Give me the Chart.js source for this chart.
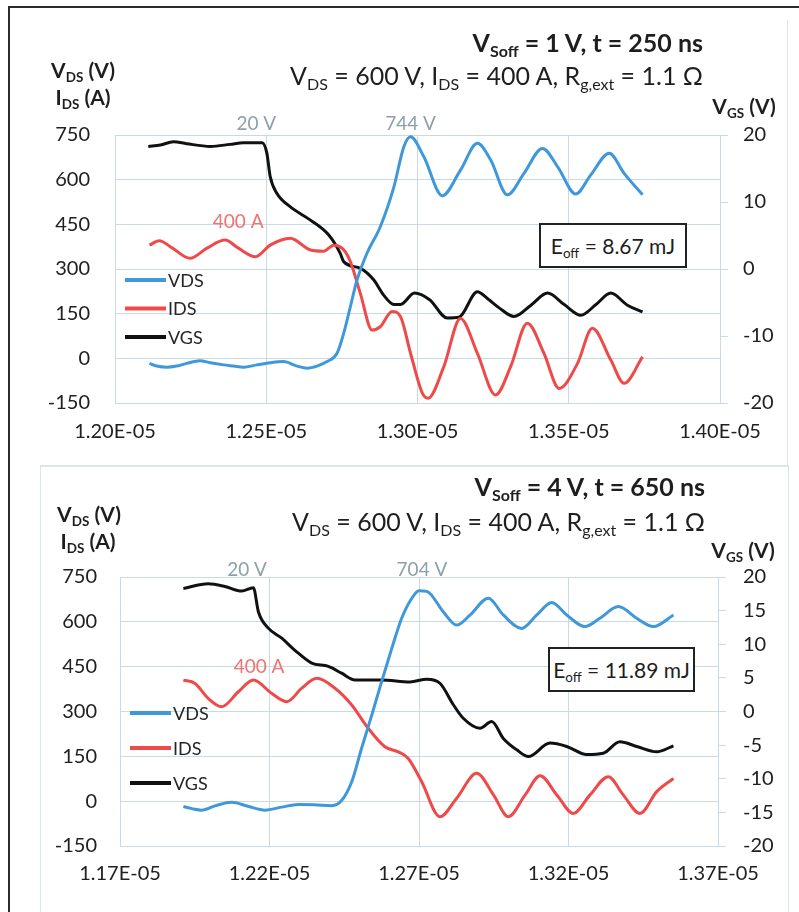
<!DOCTYPE html>
<html>
<head>
<meta charset="utf-8">
<script src="https://cdn.jsdelivr.net/npm/chart.js@4.4.1/dist/chart.umd.min.js"></script>
<style>
  body { margin: 0; background: #fff; font-family: Lato, "DejaVu Sans", sans-serif; color: #1e1e1e; }
  #page { position: relative; width: 799px; height: 912px; overflow: hidden; }
  .frame { position: absolute; left: 8px; top: 6px; width: 820px; height: 940px; border-left: 2px solid #2b2b2b; border-top: 2px solid #2b2b2b; }
  .panel { position: absolute; border: 0 solid #dbe5eb; }
  canvas { position: absolute; left: 0; }
  .txt { position: absolute; white-space: nowrap; line-height: 28px; font-size: 25px; }
  .ax { position: absolute; white-space: nowrap; line-height: 24px; font-size: 21px; font-weight: bold; text-align: center; width: 100px; }
  .s { font-size: 0.64em; vertical-align: -0.32em; line-height: 0; }
  .eoff { position: absolute; box-sizing: border-box; border: 2px solid #222; background: #fff;
          text-align: center; font-size: 21px; line-height: 41px; white-space: nowrap; }
</style>
</head>
<body>
<div id="page">
  <div class="frame"></div>
  <div class="panel" style="left:40px;top:20px;width:747px;height:446px;border-right-width:1px;border-bottom-width:1px;"></div>
  <div class="panel" style="left:40px;top:465px;width:747px;height:460px;border-left-width:1px;border-top-width:1px;border-right-width:1px;"></div>

  <canvas id="topChart" width="799" height="466" style="top:0"></canvas>
  <canvas id="botChart" width="799" height="446" style="top:466px"></canvas>

  <!-- top chart texts -->
  <div class="txt" style="right:96px;top:28px;font-weight:bold;">V<span class="s">Soff</span> = 1 V, t = 250 ns</div>
  <div class="txt" style="right:96px;top:61px;">V<span class="s">DS</span> = 600 V, I<span class="s">DS</span> = 400 A, R<span class="s">g,ext</span> = 1.1 Ω</div>
  <div class="ax" style="left:33px;top:58px;">V<span class="s">DS</span> (V)</div>
  <div class="ax" style="left:33px;top:85px;">I<span class="s">DS</span> (A)</div>
  <div class="ax" style="left:694px;top:94px;">V<span class="s">GS</span> (V)</div>
  <div class="eoff" style="left:539px;top:223px;width:148px;height:45px;"><span>E<span class="s">off</span> = 8.67 mJ</span></div>

  <!-- bottom chart texts -->
  <div class="txt" style="right:94px;top:472px;font-weight:bold;">V<span class="s">Soff</span> = 4 V, t = 650 ns</div>
  <div class="txt" style="right:94px;top:507px;">V<span class="s">DS</span> = 600 V, I<span class="s">DS</span> = 400 A, R<span class="s">g,ext</span> = 1.1 Ω</div>
  <div class="ax" style="left:39px;top:502px;">V<span class="s">DS</span> (V)</div>
  <div class="ax" style="left:38px;top:529px;">I<span class="s">DS</span> (A)</div>
  <div class="ax" style="left:693px;top:538px;">V<span class="s">GS</span> (V)</div>
  <div class="eoff" style="left:548px;top:647px;width:147px;height:45px;"><span>E<span class="s">off</span> = 11.89 mJ</span></div>
</div>

<script>
// time in microseconds (axis shows seconds, e.g. 12.5 us -> 1.25E-05)

// ---- top chart: VSoff = 1 V, t = 250 ns ----
const topVdsT = [12.114,12.138,12.171,12.204,12.237,12.281,12.315,12.359,12.392,12.425,12.469,12.513,12.557,12.602,12.635,12.668,12.701,12.734,12.756,12.778,12.800,12.833,12.877,12.922,12.955,12.977,13.021,13.082,13.142,13.198,13.242,13.297,13.352,13.413,13.463,13.523,13.573,13.634,13.683,13.744];
const topVds  = [-17,-26,-30,-26,-17,-8,-15,-22,-26,-30,-22,-15,-11,-26,-33,-26,-11,17,84,173,263,353,442,576,711,744,677,546,632,722,666,549,621,705,644,552,616,689,621,549];

const topIdsT = [12.114,12.146,12.190,12.248,12.304,12.364,12.408,12.464,12.513,12.579,12.646,12.690,12.723,12.756,12.778,12.811,12.850,12.877,12.916,12.944,12.977,13.016,13.035,13.087,13.142,13.198,13.258,13.308,13.363,13.418,13.468,13.529,13.578,13.639,13.683,13.744];
const topIds  = [380,395,370,336,370,397,370,341,380,403,364,360,380,365,325,218,95,106,157,140,17,-117,-134,-28,134,17,-123,-28,118,17,-101,-17,101,-6,-84,5];

const topVgsT = [12.110,12.150,12.193,12.237,12.315,12.380,12.425,12.486,12.502,12.513,12.535,12.579,12.646,12.706,12.745,12.756,12.811,12.855,12.888,12.922,12.944,12.990,13.040,13.098,13.137,13.198,13.231,13.270,13.319,13.375,13.430,13.485,13.540,13.590,13.639,13.694,13.744];
const topVgs  = [18.3,18.5,19.0,18.7,18.3,18.6,18.85,18.85,17.3,13.8,11.3,9.3,7.3,5.1,2.3,1.1,0.1,-1.6,-3.9,-5.3,-5.3,-3.6,-4.6,-7.3,-7.2,-3.4,-4.4,-5.8,-7.1,-5.4,-3.6,-5.3,-6.9,-5.3,-3.6,-5.4,-6.4];

const topXTicks  = [12.0,12.5,13.0,13.5,14.0];
const topYTicks  = [-150,0,150,300,450,600,750];
const topY2Ticks = [-20,-10,0,10,20];

const topNoteText = ['20 V','744 V','400 A'];
const topNoteT    = [12.467,12.977,12.407];
const topNoteV    = [787,787,458];

// ---- bottom chart: VSoff = 4 V, t = 650 ns ----
const botVdsT = [11.912,11.940,11.973,12.020,12.074,12.130,12.185,12.240,12.296,12.350,12.408,12.441,12.475,12.508,12.542,12.575,12.609,12.642,12.676,12.700,12.726,12.781,12.826,12.871,12.932,12.982,13.043,13.094,13.144,13.194,13.255,13.305,13.367,13.428,13.484,13.551];
const botVds  = [-18,-25,-30,-15,-4,-18,-30,-20,-11,-12,-15,2,65,177,288,400,511,612,679,704,702,634,589,623,679,623,578,623,665,623,584,612,651,612,584,623];

const botIdsT = [11.912,11.951,11.995,12.040,12.096,12.146,12.207,12.258,12.308,12.358,12.419,12.475,12.530,12.586,12.631,12.664,12.709,12.770,12.826,12.893,12.949,12.999,13.055,13.105,13.161,13.216,13.272,13.333,13.383,13.439,13.495,13.551];
const botIds  = [405,394,344,316,366,405,361,333,378,411,378,322,244,182,165,143,65,-52,10,93,21,-52,21,85,21,-41,21,82,21,-41,32,76];

const botVgsT = [11.912,11.995,12.051,12.107,12.146,12.163,12.196,12.241,12.285,12.341,12.397,12.441,12.486,12.575,12.670,12.726,12.770,12.815,12.848,12.904,12.943,12.982,13.027,13.066,13.138,13.194,13.261,13.316,13.372,13.428,13.495,13.551];
const botVgs  = [18.3,19.0,18.6,17.9,18.4,14.8,12.4,10.9,9.1,7.2,6.7,5.7,4.7,4.7,4.4,4.8,4.2,1.0,-1.0,-2.5,-1.5,-4.0,-5.7,-6.7,-4.7,-5.2,-6.4,-6.2,-4.5,-5.2,-6.0,-5.1];

const botXTicks  = [11.7,12.2,12.7,13.2,13.7];
const botYTicks  = [-150,0,150,300,450,600,750];
const botY2Ticks = [-20,-15,-10,-5,0,5,10,15,20];

const botNoteText = ['20 V','704 V','400 A'];
const botNoteT    = [12.125,12.710,12.165];
const botNoteV    = [773,773,449];

const blue = '#3f98da';
const red = '#ef4a4a';
const black = '#111111';
const gridColor = '#c8dbe5';
const tickColor = '#202020';
const noteGray = '#8da0a9';
const noteRed = '#f07272';

function pts(t, v) {
  return t.map((x, i) => ({ x: x, y: v[i] }));
}

const overlay = {
  id: 'overlay',
  afterDatasetsDraw(chart, args, opts) {
    const { ctx, chartArea, scales } = chart;
    ctx.save();
    // legend inside plot area
    chart.data.datasets.forEach((ds, i) => {
      const y = chartArea.top + opts.legendTop + i * opts.legendGap;
      const x0 = chartArea.left + 10;
      ctx.strokeStyle = ds.borderColor;
      ctx.lineWidth = 4;
      ctx.beginPath();
      ctx.moveTo(x0, y);
      ctx.lineTo(x0 + 41, y);
      ctx.stroke();
      ctx.fillStyle = '#262626';
      ctx.font = '18px Lato';
      ctx.textAlign = 'left';
      ctx.textBaseline = 'middle';
      ctx.fillText(ds.label, x0 + 43, y + 1);
    });
    // value notes
    opts.text.forEach((txt, i) => {
      ctx.fillStyle = txt.endsWith('A') ? noteRed : noteGray;
      ctx.font = '19px Lato';
      ctx.textAlign = 'center';
      ctx.textBaseline = 'middle';
      ctx.fillText(txt, scales.x.getPixelForValue(opts.t[i]), scales.y.getPixelForValue(opts.v[i]));
    });
    ctx.restore();
  }
};

function makeChart(id, d) {
  const font = { family: 'Lato', size: 20 };
  return new Chart(document.getElementById(id), {
    type: 'line',
    data: {
      datasets: [
        { label: 'VDS', data: pts(d.vdsT, d.vds), yAxisID: 'y', borderColor: blue },
        { label: 'IDS', data: pts(d.idsT, d.ids), yAxisID: 'y', borderColor: red },
        { label: 'VGS', data: pts(d.vgsT, d.vgs), yAxisID: 'y2', borderColor: black }
      ]
    },
    options: {
      responsive: false,
      animation: false,
      layout: { padding: { top: d.top, left: 0, right: 0, bottom: 0 } },
      elements: {
        line: { borderWidth: 3, cubicInterpolationMode: 'monotone' },
        point: { radius: 0 }
      },
      scales: {
        x: {
          type: 'linear', min: d.xTicks[0], max: d.xTicks[d.xTicks.length - 1],
          afterBuildTicks: s => { s.ticks = d.xTicks.map(v => ({ value: v })); },
          afterFit: s => { s.height = d.xH; },
          ticks: { font: font, color: tickColor, padding: d.xPad, maxRotation: 0,
                   callback: v => (v / 10).toFixed(2) + 'E-05' },
          grid: { color: gridColor, drawTicks: false },
          border: { display: false }
        },
        y: {
          position: 'left', min: -150, max: 750,
          afterBuildTicks: s => { s.ticks = d.yTicks.map(v => ({ value: v })); },
          afterFit: s => { s.width = d.yW; },
          ticks: { font: font, color: tickColor, padding: d.yPad },
          grid: { color: gridColor, drawTicks: false },
          border: { color: gridColor }
        },
        y2: {
          position: 'right', min: -20, max: 20,
          afterBuildTicks: s => { s.ticks = d.y2Ticks.map(v => ({ value: v })); },
          afterFit: s => { s.width = d.y2W; },
          ticks: { font: font, color: tickColor, padding: d.y2Pad },
          grid: { color: gridColor, drawOnChartArea: false, tickLength: 8 },
          border: { color: gridColor }
        }
      },
      plugins: {
        legend: { display: false },
        tooltip: { enabled: false },
        overlay: { legendTop: d.legendTop, legendGap: d.legendGap, text: d.noteText, t: d.noteT, v: d.noteV }
      }
    },
    plugins: [overlay]
  });
}

makeChart('topChart', {
  vdsT: topVdsT, vds: topVds, idsT: topIdsT, ids: topIds, vgsT: topVgsT, vgs: topVgs,
  xTicks: topXTicks, yTicks: topYTicks, y2Ticks: topY2Ticks,
  noteText: topNoteText, noteT: topNoteT, noteV: topNoteV,
  top: 135, xH: 63, yW: 115, y2W: 79, xPad: 17, yPad: 25, y2Pad: 15,
  legendTop: 145, legendGap: 28.5
});

makeChart('botChart', {
  vdsT: botVdsT, vds: botVds, idsT: botIdsT, ids: botIds, vgsT: botVgsT, vgs: botVgs,
  xTicks: botXTicks, yTicks: botYTicks, y2Ticks: botY2Ticks,
  noteText: botNoteText, noteT: botNoteT, noteV: botNoteV,
  top: 111, xH: 66, yW: 120, y2W: 81, xPad: 16, yPad: 23, y2Pad: 17,
  legendTop: 136, legendGap: 35
});
</script>
</body>
</html>
